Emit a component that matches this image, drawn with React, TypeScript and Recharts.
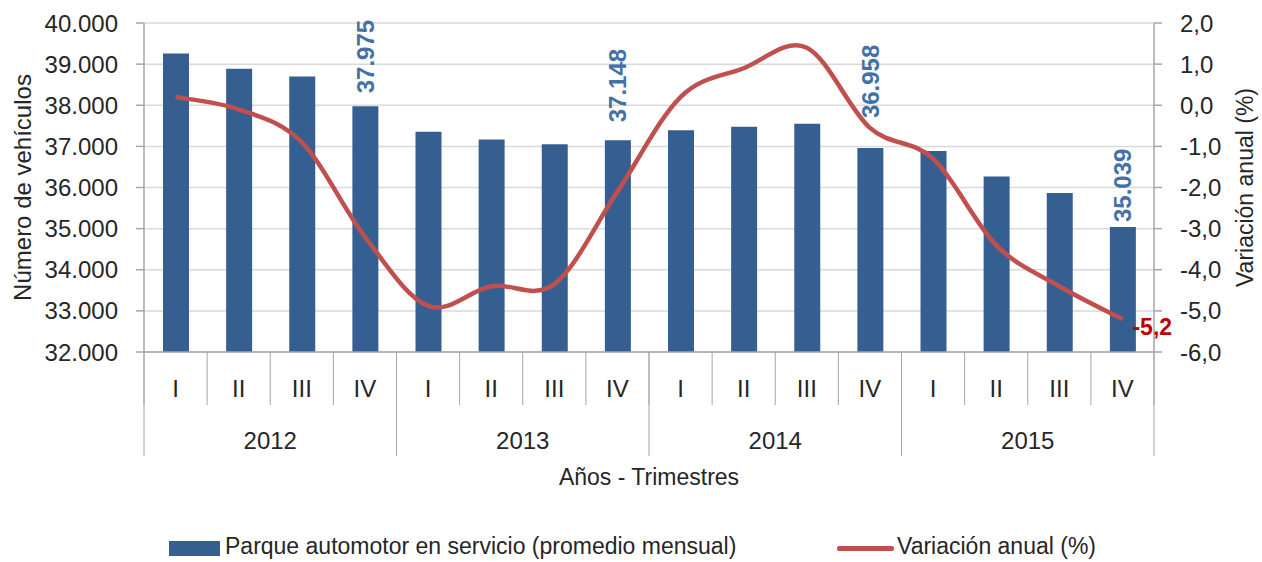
import React from 'react';
import {
  ComposedChart,
  Bar,
  Line,
  XAxis,
  YAxis,
  CartesianGrid,
  Legend,
  LabelList,
} from 'recharts';

// datos
const quarters = ['I', 'II', 'III', 'IV', 'I', 'II', 'III', 'IV', 'I', 'II', 'III', 'IV', 'I', 'II', 'III', 'IV'];
const years = ['2012', '2012', '2012', '2012', '2013', '2013', '2013', '2013', '2014', '2014', '2014', '2014', '2015', '2015', '2015', '2015'];
const parque = [39260, 38890, 38700, 37975, 37355, 37170, 37050, 37148, 37390, 37480, 37550, 36958, 36890, 36270, 35865, 35039];
const variacion = [0.2, -0.1, -0.9, -3.2, -4.88, -4.4, -4.35, -2.1, 0.2, 0.9, 1.4, -0.55, -1.3, -3.4, -4.4, -5.2];
const barLabels = [null, null, null, '37.975', null, null, null, '37.148', null, null, null, '36.958', null, null, null, '35.039'];
const lineLabels = [null, null, null, null, null, null, null, null, null, null, null, null, null, null, null, '-5,2'];
const leftTicks = [32000, 33000, 34000, 35000, 36000, 37000, 38000, 39000, 40000];
const rightTicks = [-6, -5, -4, -3, -2, -1, 0, 1, 2];

const data = quarters.map((q, i) => ({
  q,
  year: years[i],
  parque: parque[i],
  variacion: variacion[i],
  barLabel: barLabels[i],
  lineLabel: lineLabels[i],
}));

const FONT = '"Liberation Sans", Arial, sans-serif';
const TEXT = '#262626';
const AXIS = '#A6A6A6';
const BAR = '#365F91';
const RED = '#C0504D';

const PLOT_LEFT = 144;
const PLOT_RIGHT = 1154;
const QH = 53; // alto de la fila de trimestres
const YH = 51; // alto de la fila de años

// separación de cada etiqueta sobre su barra (en el original se movieron a mano)
const labelGap: Record<string, number> = { '37.975': 13, '37.148': 18, '36.958': 30, '35.039': 5 };

const fmtMiles = (v: number) => String(v).replace(/\B(?=(\d{3})+(?!\d))/g, '.');
const fmtPct = (v: number) => v.toFixed(1).replace('.', ',');

// curva suavizada tipo Excel (Catmull-Rom uniforme)
const excelSmooth = (context: any) => {
  let pts: number[][] = [];
  return {
    areaStart() {},
    areaEnd() {},
    lineStart() {
      pts = [];
    },
    lineEnd() {
      if (!pts.length) return;
      context.moveTo(pts[0][0], pts[0][1]);
      for (let i = 0; i < pts.length - 1; i++) {
        const p0 = pts[i - 1] || pts[i];
        const p1 = pts[i];
        const p2 = pts[i + 1];
        const p3 = pts[i + 2] || p2;
        context.bezierCurveTo(
          p1[0] + (p2[0] - p0[0]) / 6,
          p1[1] + (p2[1] - p0[1]) / 6,
          p2[0] - (p3[0] - p1[0]) / 6,
          p2[1] - (p3[1] - p1[1]) / 6,
          p2[0],
          p2[1]
        );
      }
    },
    point(x: number, y: number) {
      pts.push([+x, +y]);
    },
  };
};

const QuarterTick = (props: any) => {
  const { x, y, payload, index } = props;
  const half = (PLOT_RIGHT - PLOT_LEFT) / quarters.length / 2;
  return (
    <g>
      <line x1={x - half} x2={x - half} y1={y} y2={y + QH} stroke={AXIS} />
      {index === quarters.length - 1 && <line x1={x + half} x2={x + half} y1={y} y2={y + QH} stroke={AXIS} />}
      <text x={x} y={y + 36} textAnchor="middle" dominantBaseline="central" fill={TEXT} fontSize={24} fontFamily={FONT}>
        {payload.value}
      </text>
    </g>
  );
};

const YearTick = (props: any) => {
  const { x, y, payload, index } = props;
  const half = (PLOT_RIGHT - PLOT_LEFT) / 4 / 2;
  return (
    <g>
      <line x1={x - half} x2={x - half} y1={y - QH} y2={y + YH} stroke={AXIS} />
      {index === 3 && <line x1={x + half} x2={x + half} y1={y - QH} y2={y + YH} stroke={AXIS} />}
      <text x={x} y={y + 35} textAnchor="middle" dominantBaseline="central" fill={TEXT} fontSize={24} fontFamily={FONT}>
        {payload.value}
      </text>
    </g>
  );
};

const BarValue = (props: any) => {
  const { x, y, width, value } = props;
  if (value == null) return null;
  const cx = x + width / 2;
  const cy = y - (labelGap[value] ?? 13);
  return (
    <text
      x={cx}
      y={cy}
      transform={`rotate(-90 ${cx} ${cy})`}
      textAnchor="start"
      dominantBaseline="central"
      fill="#4470A8"
      fontSize={24}
      fontWeight="bold"
      fontFamily={FONT}
    >
      {value}
    </text>
  );
};

const LineValue = (props: any) => {
  const { x, y, value } = props;
  if (value == null) return null;
  return (
    <text x={x + 10} y={y + 8} dominantBaseline="central" fill="#C00000" fontSize={23} fontWeight="bold" fontFamily={FONT}>
      {value}
    </text>
  );
};

const LegendContent = () => (
  <div style={{ position: 'relative', height: 30, fontFamily: FONT, fontSize: 23, color: TEXT }}>
    <div style={{ position: 'absolute', left: 169, top: 8, width: 51, height: 15, background: BAR }} />
    <span style={{ position: 'absolute', left: 225, top: 0, whiteSpace: 'nowrap' }}>
      Parque automotor en servicio (promedio mensual)
    </span>
    <div style={{ position: 'absolute', left: 837, top: 13, width: 57, height: 5, background: RED, borderRadius: 2 }} />
    <span style={{ position: 'absolute', left: 897, top: 0, whiteSpace: 'nowrap' }}>Variación anual (%)</span>
  </div>
);

export default function App() {
  return (
    <div style={{ position: 'absolute', left: 0, top: 0, width: 1262, height: 562, background: '#fff' }}>
      <ComposedChart
        width={1262}
        height={562}
        data={data}
        margin={{ top: 23, right: 0, bottom: 106, left: 0 }}
        style={{ fontFamily: FONT }}
      >
        <CartesianGrid vertical={false} stroke="#D9D9D9" strokeWidth={1.5} xAxisId="q" yAxisId="left" />
        <XAxis
          xAxisId="q"
          dataKey="q"
          height={QH}
          tickLine={false}
          tickSize={0}
          tickMargin={0}
          axisLine={{ stroke: AXIS, strokeWidth: 1.5 }}
          tick={<QuarterTick />}
          interval={0}
        />
        <XAxis
          xAxisId="year"
          dataKey="year"
          allowDuplicatedCategory={false}
          height={YH}
          tickLine={false}
          tickSize={0}
          tickMargin={0}
          axisLine={false}
          tick={<YearTick />}
          interval={0}
          label={{ value: 'Años - Trimestres', position: 'bottom', offset: 13, fill: TEXT, fontSize: 23, fontFamily: FONT }}
        />
        <YAxis
          yAxisId="left"
          width={144}
          domain={[32000, 40000]}
          ticks={leftTicks}
          tickFormatter={fmtMiles}
          tick={{ fill: TEXT, fontSize: 24, fontFamily: FONT }}
          tickSize={8}
          tickMargin={18}
          axisLine={{ stroke: AXIS, strokeWidth: 1.5 }}
          tickLine={{ stroke: AXIS, strokeWidth: 1.5 }}
          interval={0}
          label={{ value: 'Número de vehículos', angle: -90, position: 'center', dx: -50, fill: TEXT, fontSize: 24, fontFamily: FONT }}
        />
        <YAxis
          yAxisId="right"
          orientation="right"
          width={108}
          domain={[-6, 2]}
          ticks={rightTicks}
          tickFormatter={fmtPct}
          tick={{ fill: TEXT, fontSize: 24, fontFamily: FONT }}
          tickSize={8}
          tickMargin={18}
          axisLine={{ stroke: AXIS, strokeWidth: 1.5 }}
          tickLine={{ stroke: AXIS, strokeWidth: 1.5 }}
          interval={0}
          label={{ value: 'Variación anual (%)', angle: -90, position: 'center', dx: 37, fill: TEXT, fontSize: 23, fontFamily: FONT }}
        />
        <Bar xAxisId="q" yAxisId="left" dataKey="parque" fill={BAR} barSize={26} isAnimationActive={false}>
          <LabelList dataKey="barLabel" content={<BarValue />} />
        </Bar>
        <Line
          xAxisId="q"
          yAxisId="right"
          dataKey="variacion"
          type={excelSmooth as any}
          stroke={RED}
          strokeWidth={4.5}
          dot={false}
          activeDot={false}
          isAnimationActive={false}
        >
          <LabelList dataKey="lineLabel" content={<LineValue />} />
        </Line>
        <Legend
          verticalAlign="middle"
          align="center"
          layout="horizontal"
          content={<LegendContent />}
          wrapperStyle={{ top: 533, left: 0, width: 1262, height: 30 }}
        />
      </ComposedChart>
    </div>
  );
}
